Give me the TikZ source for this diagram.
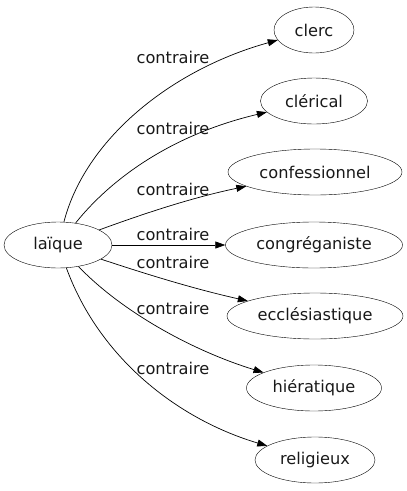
\documentclass[tikz,border=0pt]{standalone}
\usepackage{fontspec}
\setmainfont{DejaVu Sans}
\usetikzlibrary{shapes.geometric,arrows.meta}
\begin{document}
\begin{tikzpicture}[x=1pt,y=-1pt,
  word/.style={draw,ellipse,inner sep=0pt,minimum height=46pt,font=\fontsize{16.2}{18}\selectfont,text=black!90},
  lbl/.style={font=\fontsize{16.2}{18}\selectfont,text=black!90,inner sep=0pt},
  edge/.style={-{Triangle[length=10pt,width=7pt]},line width=0.7pt}]
\useasboundingbox (0,0) rectangle (407,491);
\node[word,minimum width=108pt] (l) at (58,245) {laïque};
\node[word,minimum width=80pt] (a) at (314,30) {clerc};
\node[word,minimum width=107pt] (b) at (314,101) {clérical};
\node[word,minimum width=174pt] (c) at (315,172) {confessionnel};
\node[word,minimum width=177pt] (d) at (314,245) {congréganiste};
\node[word,minimum width=176pt] (e) at (315,316) {ecclésiastique};
\node[word,minimum width=135pt] (f) at (314,388) {hiératique};
\node[word,minimum width=120pt] (g) at (315,460) {religieux};
\draw[edge] (l) .. controls (85,140) and (170,70) .. (a);
\draw[edge] (l) .. controls (110,180) and (170,135) .. (b);
\draw[edge] (l) .. controls (140,215) and (190,198) .. (c);
\draw[edge] (l) -- (d);
\draw[edge] (l) .. controls (140,272) and (190,288) .. (e);
\draw[edge] (l) .. controls (120,310) and (190,350) .. (f);
\draw[edge] (l) .. controls (100,360) and (180,420) .. (g);
\node[lbl] (la) at (173,57) {contraire};
\node[lbl] (lb) at (173,128) {contraire};
\node[lbl] (lc) at (173,189) {contraire};
\node[lbl] (ld) at (173,234) {contraire};
\node[lbl] (le) at (173,262) {contraire};
\node[lbl] (lf) at (173,308) {contraire};
\node[lbl] (lg) at (173,368) {contraire};
\end{tikzpicture}
\end{document}
